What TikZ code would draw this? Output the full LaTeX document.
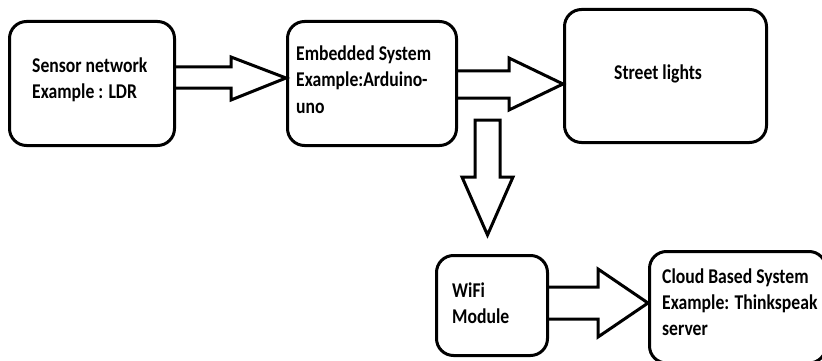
\documentclass[tikz,border=0pt]{standalone}
\usepackage{fontspec}
\newfontfamily\lblfont{Carlito}[FakeStretch=0.84]
\usetikzlibrary{calc}
\tikzset{
  box/.style={draw, line width=3pt, rounded corners=17pt, minimum width=#1},
  box/.default=100pt,
  barrow/.style={draw, line width=3pt, line join=miter},
  lbl/.style={inner sep=0pt, anchor=base west, align=left,
    font=\lblfont\bfseries\fontsize{21}{26}\selectfont}
}
\begin{document}
\begin{tikzpicture}[x=1pt,y=-1pt]
\useasboundingbox (0,0) rectangle (822,361);
\clip (0,0) rectangle (822,361);
% boxes
\node[box=165pt, minimum height=124pt] (sensor) at (92,83.5) {};
\node[box=169pt, minimum height=124pt] (embedded) at (372,83.5) {};
\node[box=202pt, minimum height=133pt] (street) at (665.5,76) {};
\node[box=111pt, minimum height=100pt] (wifi) at (492,305.5) {};
\node[box=176.5pt, minimum height=111.5pt] (cloud) at (737.75,307.25) {};
% texts (base anchor = baseline of the last line)
\node[lbl] (tsensor) at (32,99) {Sensor network\\Example : LDR};
\node[lbl] (tembedded) at (296,113) {Embedded System\\Example:Arduino-\\uno};
\node[lbl] (tstreet) at (614,79) {Street lights};
\node[lbl] (twifi) at (452,323) {WiFi\\Module};
\node[lbl] (tcloud) at (662,335) {Cloud Based System\\Example: Thinkspeak\\server};
% block arrows
\draw[barrow] let \p1=(sensor.east), \p2=(embedded.west) in
  (\x1,-67pt) -- (231,67) -- (231,57) -- (\x2,-78pt) -- (231,100) -- (231,88) -- (\x1,-88pt);
\draw[barrow] let \p1=(embedded.east), \p2=(street.west) in
  (\x1,-71pt) -- (509,71) -- (509,58) -- (\x2,-84pt) -- (509,110) -- (509,98) -- (\x1,-98pt);
\coordinate (dtop) at (487.5,120);
\coordinate (dtip) at (487.5,235);
\draw[barrow] let \p1=(dtop), \p2=(dtip) in
  (\x1-12.5pt,\y1) -- (\x1+12.5pt,\y1) -- (\x1+12.5pt,-177pt) -- (\x1+25.5pt,-177pt)
  -- (\x2,\y2) -- (\x1-25.5pt,-177pt) -- (\x1-12.5pt,-177pt) -- cycle;
\draw[barrow] let \p1=(wifi.east), \p2=(cloud.west) in
  (\x1,-287pt) -- (598,287) -- (598,269) -- (\x2,-303pt) -- (598,337) -- (598,319) -- (\x1,-319pt);
\end{tikzpicture}
\end{document}
